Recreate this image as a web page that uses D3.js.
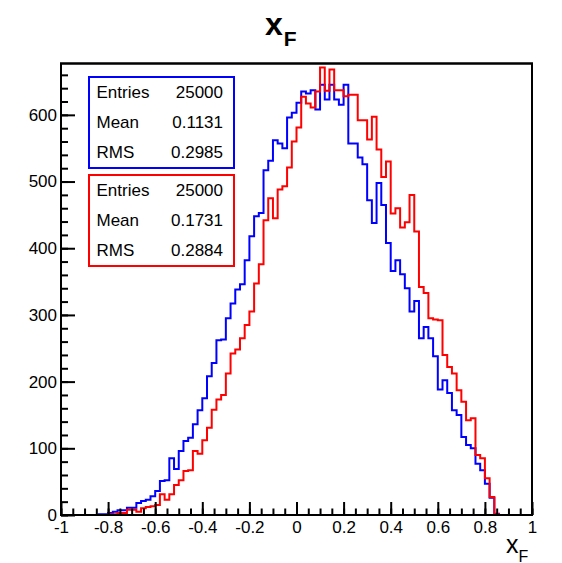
<!DOCTYPE html>
<html>
<head>
<meta charset="utf-8">
<script src="https://cdn.jsdelivr.net/npm/d3@7"></script>
<style>
    body { margin: 0; background: #fff; }
    #chart-area { width: 562px; height: 563px; }
    text { font-family: "Liberation Sans", Arial, Helvetica, sans-serif; fill: #000; }
</style>
</head>
<body>
<div id="chart-area"></div>
<script>

// 100 bins from -1 to 1
const binStart = -1;
const binWidth = 0.02;

const blueCounts = [
    0, 0, 0, 0, 0, 0, 0, 0, 1, 1,
    3, 5, 7, 7, 11, 11, 18, 21, 23, 28,
    36, 51, 52, 85, 69, 96, 111, 116, 136, 157,
    175, 208, 228, 262, 263, 295, 317, 338, 346, 382,
    418, 448, 453, 517, 531, 562, 557, 550, 596, 603,
    618, 635, 632, 637, 608, 645, 623, 645, 623, 615,
    645, 557, 557, 536, 526, 472, 438, 498, 465, 408,
    366, 382, 361, 340, 305, 321, 265, 282, 265, 238,
    188, 202, 183, 157, 150, 117, 105, 100, 77, 67,
    47, 26, 2, 0, 0, 0, 0, 0, 0, 0
];

const redCounts = [
    0, 0, 0, 0, 0, 0, 0, 0, 0, 0,
    1, 1, 3, 3, 8, 8, 5, 10, 12, 13,
    15, 31, 23, 31, 45, 52, 66, 67, 96, 92,
    112, 131, 158, 173, 180, 212, 242, 248, 265, 285,
    305, 347, 376, 442, 475, 445, 488, 493, 521, 560,
    581, 627, 617, 611, 635, 671, 636, 668, 637, 637,
    628, 630, 630, 592, 592, 563, 597, 548, 507, 530,
    452, 460, 431, 439, 480, 425, 342, 333, 295, 293,
    292, 240, 222, 212, 187, 170, 142, 145, 90, 85,
    55, 27, 1, 0, 0, 0, 0, 0, 0, 0
];

const xTickValues = [-1, -0.8, -0.6, -0.4, -0.2, 0, 0.2, 0.4, 0.6, 0.8, 1];
const xTickLabels = ["-1", "-0.8", "-0.6", "-0.4", "-0.2", "0", "0.2", "0.4", "0.6", "0.8", "1"];
const yTickValues = [0, 100, 200, 300, 400, 500, 600];
const yTickLabels = ["0", "100", "200", "300", "400", "500", "600"];

const statNames = ["Entries", "Mean", "RMS"];
const blueStats = ["25000", "0.1131", "0.2985"];
const redStats = ["25000", "0.1731", "0.2884"];

const yMax = 677;


class XfHistogram {

    constructor(parentElement) {
        this.parentElement = parentElement;
        this.initVis();
    }

    initVis() {
        let vis = this;

        vis.frame = {left: 61, right: 532, top: 63.5, bottom: 515};

        vis.svg = d3.select("#" + vis.parentElement).append("svg")
            .attr("width", 562)
            .attr("height", 563);

        vis.x = d3.scaleLinear().domain([-1, 1]).range([vis.frame.left, vis.frame.right]);
        vis.y = d3.scaleLinear().domain([0, yMax]).range([vis.frame.bottom, vis.frame.top]);

        vis.svg.append("rect")
            .attr("x", vis.frame.left)
            .attr("y", vis.frame.top)
            .attr("width", vis.frame.right - vis.frame.left)
            .attr("height", vis.frame.bottom - vis.frame.top)
            .attr("fill", "white")
            .attr("stroke", "black")
            .attr("stroke-width", 2);

        vis.updateVis();
    }

    stepPoints(counts) {
        let pts = [[binStart, 0]];
        counts.forEach((c, i) => {
            pts.push([binStart + i * binWidth, c]);
            pts.push([binStart + (i + 1) * binWidth, c]);
        });
        pts.push([binStart + counts.length * binWidth, 0]);
        return pts;
    }

    updateVis() {
        let vis = this;

        let line = d3.line()
            .x(d => vis.x(d[0]))
            .y(d => vis.y(d[1]));

        vis.svg.selectAll("path.hist")
            .data([{counts: blueCounts, color: "#0000ff"}, {counts: redCounts, color: "#ff0000"}])
            .join("path")
            .attr("class", "hist")
            .attr("d", d => line(vis.stepPoints(d.counts)))
            .attr("fill", "none")
            .attr("stroke", d => d.color)
            .attr("stroke-width", 2);

        // minor ticks
        vis.svg.append("g")
            .attr("transform", `translate(0, ${vis.frame.bottom})`)
            .call(d3.axisBottom(vis.x).tickValues(d3.range(-20, 21).map(i => i * 0.05)).tickSize(-6.5).tickFormat(""))
            .call(g => g.select(".domain").remove());

        vis.svg.append("g")
            .attr("transform", `translate(${vis.frame.left}, 0)`)
            .call(d3.axisLeft(vis.y).tickValues(d3.range(0, 34).map(i => i * 20)).tickSize(-7).tickFormat(""))
            .call(g => g.select(".domain").remove());

        // major ticks + labels
        vis.svg.append("g")
            .attr("class", "x-axis")
            .attr("transform", `translate(0, ${vis.frame.bottom})`)
            .call(d3.axisBottom(vis.x).tickValues(xTickValues).tickSize(-13).tickPadding(6)
                .tickFormat((d, i) => xTickLabels[i]))
            .call(g => g.select(".domain").remove());

        vis.svg.append("g")
            .attr("class", "y-axis")
            .attr("transform", `translate(${vis.frame.left}, 0)`)
            .call(d3.axisLeft(vis.y).tickValues(yTickValues).tickSize(-14).tickPadding(4)
                .tickFormat((d, i) => yTickLabels[i]))
            .call(g => g.select(".domain").remove());

        vis.svg.selectAll(".tick line").attr("stroke", "black").attr("stroke-width", 2);
        vis.svg.selectAll(".x-axis text, .y-axis text")
            .style("font-size", "17px")
            .attr("fill", "black");

        // frame on top
        vis.svg.append("rect")
            .attr("x", vis.frame.left)
            .attr("y", vis.frame.top)
            .attr("width", vis.frame.right - vis.frame.left)
            .attr("height", vis.frame.bottom - vis.frame.top)
            .attr("fill", "none")
            .attr("stroke", "black")
            .attr("stroke-width", 2);

        // stats boxes
        let boxes = [
            {values: blueStats, color: "#0000ff", top: 77},
            {values: redStats, color: "#ff0000", top: 175}
        ];
        let boxH = 91;

        boxes.forEach(b => {
            let g = vis.svg.append("g");
            g.append("rect")
                .attr("x", 89)
                .attr("y", b.top)
                .attr("width", 145)
                .attr("height", boxH)
                .attr("fill", "white")
                .attr("stroke", b.color)
                .attr("stroke-width", 2);

            statNames.forEach((name, i) => {
                let yy = b.top + boxH / 6 * (2 * i + 1) + 5.5;
                g.append("text")
                    .attr("x", 96.5)
                    .attr("y", yy)
                    .style("font-size", "17px")
                    .text(name);
                g.append("text")
                    .attr("x", 223)
                    .attr("y", yy)
                    .attr("text-anchor", "end")
                    .style("font-size", "17px")
                    .text(b.values[i]);
            });
        });

        // title
        let title = vis.svg.append("text")
            .attr("x", 265)
            .attr("y", 35)
            .style("font-weight", "bold");
        title.append("tspan").style("font-size", "32px").text("x");
        title.append("tspan").attr("dy", 11).attr("dx", 1).style("font-size", "21px").text("F");

        // x axis title
        let xTitle = vis.svg.append("text")
            .attr("x", 506)
            .attr("y", 553);
        xTitle.append("tspan").style("font-size", "25px").text("x");
        xTitle.append("tspan").attr("dy", 9).style("font-size", "16px").text("F");
    }
}

new XfHistogram("chart-area");

</script>
</body>
</html>
